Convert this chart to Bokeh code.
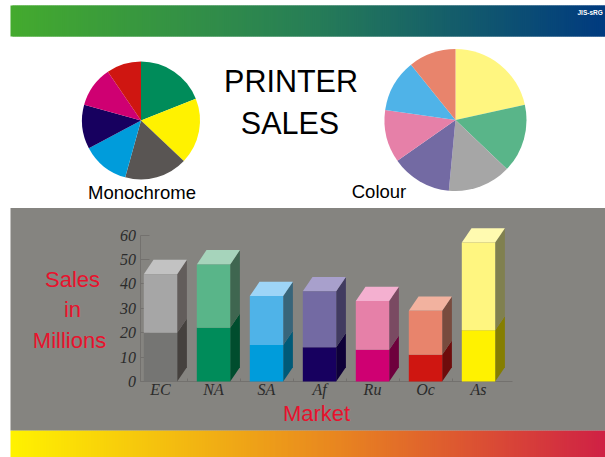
from math import pi

from bokeh.core.properties import value
from bokeh.embed import file_html
from bokeh.models import FixedTicker, Range1d
from bokeh.plotting import figure
from bokeh.resources import INLINE

# Sales in millions per market
markets = ["EC", "NA", "SA", "Af", "Ru", "Oc", "As"]
monochrome = [20, 22, 15, 14, 13, 11, 21]
colour = [24, 26, 20, 23, 20, 18, 36]
y_ticks = [0, 10, 20, 30, 40, 50, 60]

# Market order round the two pies, clockwise from twelve o'clock
pie_order = [6, 1, 0, 3, 4, 2, 5]
mono_pie_order = [1, 6, 0, 2, 3, 4, 5]

mono_front = ["#757573", "#008C5A", "#009CDB", "#17005F", "#CF0072", "#CF1611", "#FFF200"]
mono_side = ["#45413E", "#004D2E", "#005A78", "#0E0038", "#6E003D", "#6E0C0C", "#857E00"]
mono_pie = ["#595553", "#008C5A", "#009CDB", "#17005F", "#CF0072", "#CF1611", "#FFF200"]
colour_front = ["#A6A6A6", "#59B589", "#4FB3E8", "#736AA3", "#E680A8", "#E8846C", "#FFF680"]
colour_side = ["#625D5B", "#3F6650", "#38657A", "#413B60", "#7A4A62", "#784B3E", "#80804F"]
colour_top = ["#C2C2C2", "#A6D4BB", "#9ED5F7", "#A8A0CC", "#F4B0D0", "#F2B29F", "#FFFAB0"]

WIDTH, HEIGHT = 605, 457
RED = "#E8122D"
GREY = "#858480"

# Value scale fills the page: category 0 centred at 160 px, 53 px per category,
# sales 0 at 381 px, 2.44 px per million.
PX_X, PX_Y = 53.0, 2.44
x0, y0 = 160.0, 381.0

p = figure(
    width=WIDTH, height=HEIGHT, output_backend="svg", toolbar_location=None,
    x_range=Range1d(-x0 / PX_X, (WIDTH - x0) / PX_X),
    y_range=Range1d((y0 - HEIGHT) / PX_Y, y0 / PX_Y),
    min_border=0, tools="",
)
p.extra_x_ranges = {"page": Range1d(0, WIDTH)}
p.extra_y_ranges = {"page": Range1d(HEIGHT, 0)}
p.grid.visible = False
p.outline_line_color = None
p.background_fill_color = "white"
p.border_fill_color = "white"
PAGE = dict(x_range_name="page", y_range_name="page")


def lerp_colour(stops, t):
    for (t0, c0), (t1, c1) in zip(stops, stops[1:]):
        if t <= t1:
            f = (t - t0) / (t1 - t0)
            return "#%02X%02X%02X" % tuple(round(a + (b - a) * f) for a, b in zip(c0, c1))
    return "#%02X%02X%02X" % stops[-1][1]


def banner(top, bottom, stops):
    # Each strip runs past its neighbour's edge so no seams show between them
    lefts = list(range(10, WIDTH, 2))
    p.quad(
        left=lefts, right=[min(v + 4, WIDTH) for v in lefts], top=top, bottom=bottom,
        color=[lerp_colour(stops, (v - 10) / (WIDTH - 10)) for v in lefts],
        line_color=None, level="image", **PAGE,
    )


banner(5, 36, [(0, (0x44, 0xAA, 0x2E)), (0.5, (0x27, 0x7E, 0x56)), (1, (0x00, 0x3A, 0x80))])
banner(430, 457, [(0, (0xFF, 0xF2, 0x00)), (0.55, (0xE8, 0x85, 0x20)), (1, (0xCF, 0x20, 0x45))])
p.quad(left=10, right=WIDTH, top=207.5, bottom=430, color=GREY, line_color=None, level="image", **PAGE)


def pie(cx, cy, radius, values, colours):
    total = sum(values)
    start = 0.0
    for v, c in zip(values, colours):
        end = start + v / total * 2 * pi
        p.wedge(
            x=cx, y=cy, radius=radius, start_angle=pi / 2 - end, end_angle=pi / 2 - start,
            color=c, line_color=None, **PAGE,
        )
        start = end


pie(140.5, 120, 59, [monochrome[i] for i in mono_pie_order], [mono_pie[i] for i in mono_pie_order])
pie(455, 119.5, 71, [colour[i] for i in pie_order], [colour_front[i] for i in pie_order])

# Axes sit inside the page, behind the bars
BAR_W = 0.63
DX, DY = 0.183, 5.85

xaxis = p.xaxis[0]
xaxis.fixed_location = 0
xaxis.bounds = (-0.368, 6.64)
xaxis.ticker = FixedTicker(ticks=list(range(len(markets))), minor_ticks=[i + 0.5 for i in range(-1, 6)])
xaxis.major_label_overrides = {i: m for i, m in enumerate(markets)}
xaxis.major_tick_in = 0
xaxis.major_tick_out = 0
xaxis.minor_tick_in = 3
xaxis.minor_tick_out = 0
xaxis.major_label_standoff = -1

yaxis = p.yaxis[0]
yaxis.fixed_location = -0.368
yaxis.bounds = (0, 60)
yaxis.ticker = FixedTicker(ticks=y_ticks)
yaxis.minor_tick_line_color = None
yaxis.major_tick_in = 9
yaxis.major_tick_out = 0
yaxis.major_label_standoff = 5

for axis in (xaxis, yaxis):
    axis.level = "underlay"
    axis.axis_line_color = "#73716E"
    axis.major_tick_line_color = "#73716E"
    axis.major_label_text_font = "Liberation Serif"
    axis.major_label_text_font_style = "italic"
    axis.major_label_text_font_size = "16px"
    axis.major_label_text_color = "#2B2B2B"
xaxis.minor_tick_line_color = "#73716E"
yaxis.major_label_orientation = "horizontal"

# Stacked bars with an extruded side and lid
idx = list(range(len(markets)))
totals = [m + c for m, c in zip(monochrome, colour)]
lefts = [i - BAR_W / 2 for i in idx]
rights = [i + BAR_W / 2 for i in idx]


def side(r, low, high):
    return [r, r + DX, r + DX, r], [low, low + DY, high + DY, high]


lower = [side(r, 0, m) for r, m in zip(rights, monochrome)]
upper = [side(r, m, t) for r, m, t in zip(rights, monochrome, totals)]
p.patches([s[0] for s in lower], [s[1] for s in lower], color=mono_side, line_color=None)
p.patches([s[0] for s in upper], [s[1] for s in upper], color=colour_side, line_color=None)
p.patches(
    [[a, a + DX, b + DX, b] for a, b in zip(lefts, rights)],
    [[t, t + DY, t + DY, t] for t in totals],
    color=colour_top, line_color=None,
)
p.vbar(x=idx, width=BAR_W, bottom=0, top=monochrome, color=mono_front, line_color=None)
p.vbar(x=idx, width=BAR_W, bottom=monochrome, top=totals, color=colour_front, line_color=None)


def label(x, y, text, size, color="black", align="center", style="normal"):
    p.text(
        x=[x], y=[y], text=[text], text_font=value("Liberation Sans"), text_font_size=f"{size}px",
        text_color=color, text_align=align, text_baseline="middle", text_font_style=style, **PAGE,
    )


label(290.5, 80, "PRINTER", 30.5)
label(289.5, 122, "SALES", 30.5)
label(141.5, 192, "Monochrome", 18.5)
label(378.5, 191, "Colour", 18.5)
label(72, 279, "Sales", 22, RED)
label(72, 309, "in", 22, RED)
label(69, 340, "Millions", 22, RED)
label(316, 413, "Market", 22, RED)
label(577, 12, "JIS-sRG", 6.5, "white", "left", "bold")

open("out.html", "w").write(file_html(p, INLINE))
